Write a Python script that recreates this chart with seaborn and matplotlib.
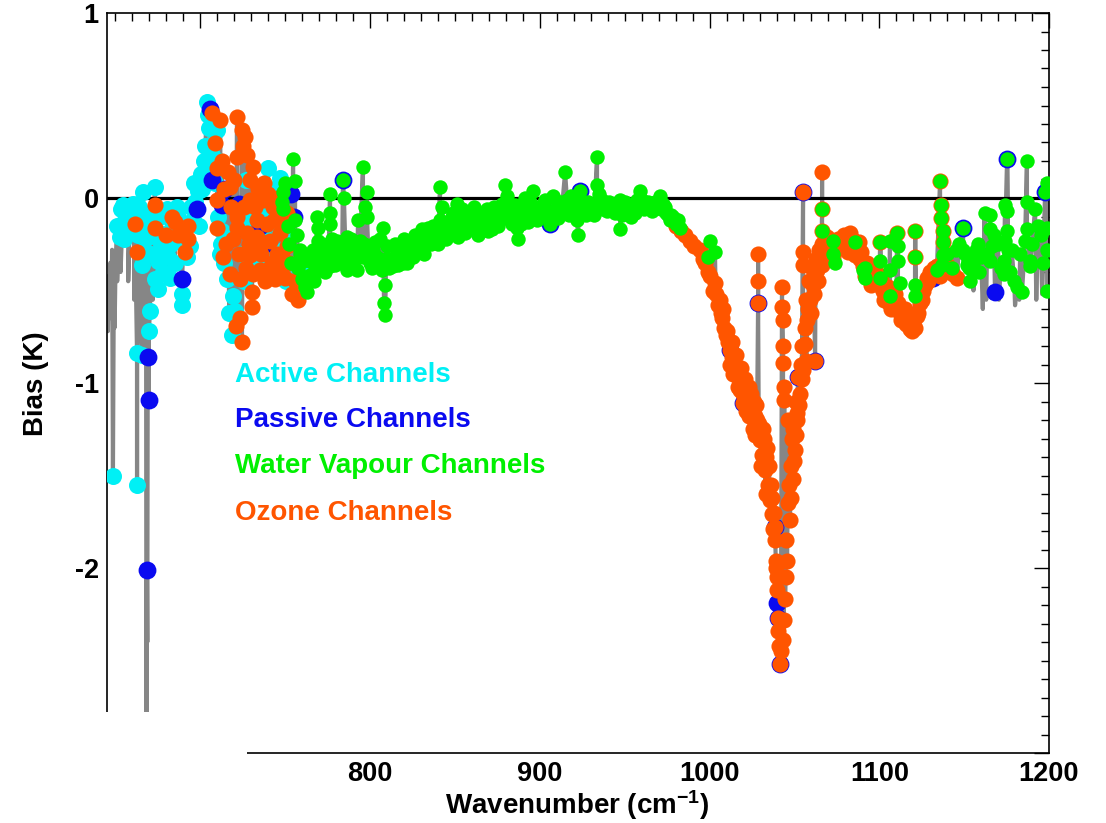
import numpy as np
import pandas as pd
import matplotlib
matplotlib.use("Agg")
import matplotlib.pyplot as plt
from matplotlib.patches import Rectangle
from matplotlib.ticker import MultipleLocator
import seaborn as sns

# ---------------------------------------------------------------------------
# Mean bias (K) per IASI channel, grouped by channel type
# ---------------------------------------------------------------------------
active_wn = [648.5, 652.7, 654.4, 655.6, 656.8, 658.6, 660.3, 662.7, 662.7, 663.5,
             665.6, 665.6, 666.2, 667.5, 669.2, 669.7, 670.3, 671.5, 673.3, 673.3,
             675.0, 675.0, 677.0, 679.2, 680.4, 680.4, 682.1, 684.0, 686.2, 688.0,
             689.2, 689.2, 693.9, 695.5, 697.0, 698.5, 700.5, 702.0, 703.9, 705.0,
             706.0, 707.0, 708.0, 709.8, 711.0, 711.6, 713.0, 715.7, 718.6, 719.2,
             720.4, 722.0, 724.0, 727.0, 730.0, 733.0, 736.0, 739.9, 742.0, 744.0,
             746.9, 749.0, 752.0, 756.0, 760.0,
             651.0, 653.0, 655.0, 657.5, 659.5, 661.0, 664.0, 667.0, 668.0, 671.0,
             672.5, 674.0, 676.0, 678.0, 681.0, 683.0, 685.0, 687.0, 690.5, 692.0,
             694.5, 696.0, 699.0, 701.0, 703.0, 704.5, 708.5, 710.5, 712.0, 714.0,
             716.5, 717.0, 725.5, 728.0, 732.0, 734.5, 738.5, 741.0, 743.0, 745.5,
             748.5, 750.5]
active_bias = [-1.50, -0.21, -0.04, -0.12, -0.16, -0.08, -0.03, -0.84, -1.55, -0.20,
               -0.85, -0.36, 0.03, -0.10, -0.21, -0.72, -0.61, -0.15, 0.06, -0.44,
               -0.34, -0.49, -0.25, -0.28, -0.19, -0.06, -0.43, -0.15, -0.05, -0.23,
               -0.52, -0.58, -0.26, -0.12, -0.02, 0.04, 0.13, 0.20, 0.52, 0.38,
               0.15, 0.23, 0.30, 0.37, 0.20, -0.30, -0.18, -0.44, -0.74, -0.53,
               -0.61, -0.05, -0.30, 0.10, -0.20, -0.35, -0.05, 0.16, -0.10, -0.30,
               0.11, -0.38, -0.20, -0.48, -0.40,
               -0.15, -0.06, -0.22, -0.05, -0.18, -0.10, -0.05, -0.28, -0.15, -0.30,
               -0.08, -0.20, -0.10, -0.40, -0.32, -0.25, -0.35, -0.10, -0.15, -0.32,
               -0.05, 0.08, -0.15, 0.05, 0.28, 0.45, 0.08, -0.10, -0.25, -0.35,
               -0.22, -0.62, -0.45, -0.12, -0.28, 0.02, -0.22, 0.05, -0.40, -0.15,
               -0.28, -0.45]

passive_wn = [668.5, 669.0, 669.5, 689.2, 698.0, 705.7, 706.9, 712.8, 714.5, 722.5,
              735.0, 738.0, 753.4, 755.0, 784.0, 906.0, 917.8, 923.7, 1012.1, 1019.7,
              1028.6, 1038.6, 1039.8, 1040.4, 1041.6, 1052.1, 1055.1, 1062.2, 1131.7, 1149.4,
              1168.2, 1175.3, 1197.7]
passive_bias = [-2.01, -0.86, -1.09, -0.44, -0.06, 0.48, 0.10, -0.04, 0.05, -0.03,
                -0.15, -0.25, 0.02, -0.10, 0.10, -0.14, -0.05, 0.04, -0.82, -1.11,
                -0.57, -1.78, -2.19, -2.27, -2.52, -0.97, 0.03, -0.88, -0.43, -0.16,
                -0.51, 0.21, 0.03]

ozone_wn = [661.5, 662.7, 673.3, 673.3, 685.0, 687.0, 691.0, 692.7, 692.7, 680.0, 683.5,
            706.9, 709.8, 709.8, 709.8, 711.6, 713.3, 716.3, 717.5, 717.5, 719.0,
            721.0, 721.6, 721.6, 721.6, 721.6, 723.4, 723.4, 724.5, 724.5, 725.1,
            726.3, 727.5, 727.5, 729.3, 729.3, 729.3, 730.4, 730.4, 731.0, 731.0,
            733.4, 733.4, 735.2, 735.2, 736.9, 737.5, 739.3, 739.3, 741.0, 742.8,
            744.0, 745.2, 746.9, 748.0, 748.7, 749.9, 751.0, 751.0, 754.0, 757.5,
            708.5, 712.5, 714.0, 715.0, 718.0, 720.0, 722.5, 725.8, 726.8, 728.5,
            732.0, 734.0, 736.0, 738.0, 740.0, 742.0, 743.5, 745.8, 747.5, 750.0,
            752.5, 755.5,
            980.0, 983.0, 985.5, 988.5, 991.0, 994.4, 996.0, 997.3, 999.0, 1000.3,
            1002.0, 1003.5, 1005.0, 1006.0, 1007.4, 1008.5, 1009.7, 1011.0, 1012.1, 1013.5,
            1015.0, 1016.0, 1016.8, 1018.0, 1019.7, 1020.9, 1022.0, 1022.7, 1024.0, 1025.0,
            1026.5, 1028.0, 1028.6, 1028.6, 1028.6, 1029.8, 1031.0, 1032.0, 1032.7, 1033.5,
            1034.5, 1035.6, 1036.8, 1037.4, 1038.6, 1038.6, 1039.0, 1039.8, 1040.4, 1040.4,
            1041.0, 1041.6, 1042.7, 1042.7, 1043.0, 1043.3, 1043.3, 1043.3, 1044.0, 1044.0,
            1044.5, 1045.7, 1046.5, 1047.4, 1048.5, 1049.2, 1050.4, 1051.6, 1051.6, 1052.1,
            1053.3, 1055.1, 1055.1, 1055.1, 1055.1, 1056.3, 1057.4, 1058.0, 1059.2, 1061.0,
            1062.2, 1063.3, 1064.0, 1065.1, 1066.3, 1066.3, 1066.3, 1066.3, 1068.0, 1071.0,
            1004.0, 1006.5, 1008.0, 1010.5, 1012.0, 1013.0, 1014.0, 1015.5, 1017.0, 1018.5,
            1019.0, 1020.0, 1021.5, 1023.0, 1023.5, 1024.5, 1025.5, 1026.0, 1027.0, 1027.5,
            1029.0, 1030.5, 1031.5, 1033.0, 1034.0, 1035.0, 1036.0, 1037.0, 1038.0, 1039.3,
            1040.0, 1042.0, 1043.8, 1044.8, 1045.2, 1046.0, 1046.8, 1047.8, 1048.0, 1049.0,
            1049.8, 1050.8, 1051.0, 1052.5, 1053.8, 1054.2, 1054.5, 1056.0, 1056.8, 1057.0,
            1058.5, 1059.8, 1060.5, 1061.5, 1062.5, 1064.5, 1066.0, 1067.0, 1069.0, 1070.0,
            1072.8, 1072.8, 1074.5, 1076.9, 1079.0, 1080.5, 1082.8, 1084.5, 1085.7, 1086.9,
            1088.5, 1090.4, 1092.5, 1094.0, 1096.3, 1098.0, 1100.0, 1100.5, 1102.2, 1104.0,
            1106.0, 1108.1, 1110.0, 1110.5, 1112.0, 1114.0, 1116.0, 1118.1, 1120.0, 1121.1,
            1121.1, 1122.2, 1124.0, 1126.0, 1128.2, 1130.0, 1134.0, 1135.8, 1136.4, 1136.4,
            1137.5, 1137.5, 1138.0, 1141.7, 1145.8,
            1073.5, 1075.5, 1078.0, 1081.5, 1083.8, 1085.5, 1087.8, 1089.5, 1091.5, 1093.0,
            1095.0, 1097.0, 1099.0, 1101.0, 1103.0, 1105.0, 1107.0, 1109.0, 1111.0, 1113.0,
            1115.0, 1117.0, 1119.0, 1121.0, 1123.0, 1125.0, 1127.0, 1129.0, 1132.0, 1136.0,
            1140.0, 1143.5]
ozone_bias = [-0.14, -0.29, -0.04, -0.16, -0.13, -0.20, -0.29, -0.15, -0.22, -0.20, -0.10,
              0.46, 0.16, -0.01, -0.16, 0.42, -0.32, 0.14, 0.06, -0.41, -0.22,
              -0.69, 0.44, 0.22, -0.10, -0.16, -0.44, -0.65, 0.37, -0.78, 0.28,
              0.33, 0.23, -0.19, 0.10, -0.01, -0.31, -0.51, -0.59, 0.17, -0.41,
              -0.12, -0.21, -0.26, -0.39, -0.01, 0.08, -0.14, -0.39, -0.23, -0.05,
              -0.44, -0.30, -0.19, -0.30, -0.34, -0.43, -0.08, -0.26, -0.52, -0.55,
              0.30, 0.20, 0.05, -0.25, -0.05, 0.10, -0.30, -0.05, -0.38, -0.25,
              -0.05, 0.05, -0.30, -0.45, 0.02, -0.35, -0.12, 0.00, -0.40, -0.15,
              -0.35, -0.45,
              -0.15, -0.18, -0.20, -0.23, -0.26, -0.28, -0.33, -0.35, -0.40, -0.42,
              -0.50, -0.46, -0.58, -0.55, -0.65, -0.70, -0.74, -0.78, -0.82, -0.86,
              -0.90, -0.95, -0.97, -1.04, -1.11, -0.98, -1.05, -1.09, -1.12, -1.15,
              -1.18, -1.20, -0.30, -0.45, -0.57, -1.31, -1.39, -1.30, -1.47, -1.40,
              -1.55, -1.63, -1.71, -1.79, -1.85, -1.78, -1.96, -2.12, -2.27, -2.34,
              -2.42, -2.52, -0.48, -0.59, -0.66, -0.80, -0.89, -2.39, -1.02, -1.09,
              -2.17, -1.96, -1.20, -1.74, -1.30, -1.52, -1.36, -1.20, -1.16, -0.97,
              -1.06, 0.03, -0.29, -0.36, -0.93, -0.79, -0.66, -0.60, -0.55, -0.47,
              -0.88, -0.39, -0.45, -0.32, 0.14, -0.06, -0.18, -0.36, -0.27, -0.23,
              -0.52, -0.62, -0.60, -0.72, -0.90, -0.78, -0.95, -0.85, -1.02, -0.92,
              -1.00, -1.06, -1.15, -1.02, -1.18, -1.06, -1.25, -1.10, -1.28, -1.12,
              -1.22, -1.45, -1.25, -1.60, -1.35, -1.45, -1.55, -1.62, -1.70, -2.00,
              -2.05, -2.45, -2.28, -2.05, -1.85, -1.65, -1.55, -1.45, -1.62, -1.25,
              -1.42, -1.10, -1.28, -1.12, -0.90, -0.98, -0.80, -0.70, -0.55, -0.88,
              -0.45, -0.62, -0.38, -0.52, -0.33, -0.28, -0.25, -0.30, -0.21, -0.26,
              -0.32, -0.23, -0.26, -0.26, -0.20, -0.24, -0.19, -0.25, -0.24, -0.28,
              -0.33, -0.37, -0.35, -0.42, -0.44, -0.40, -0.47, -0.24, -0.50, -0.52,
              -0.57, -0.55, -0.60, -0.19, -0.62, -0.64, -0.68, -0.71, -0.68, -0.18,
              -0.32, -0.64, -0.57, -0.50, -0.43, -0.40, -0.37, 0.09, -0.04, -0.11,
              -0.18, -0.24, -0.40, -0.39, -0.43,
              -0.28, -0.22, -0.27, -0.29, -0.22, -0.31, -0.24, -0.29, -0.42, -0.38,
              -0.47, -0.38, -0.45, -0.42, -0.55, -0.48, -0.60, -0.52, -0.57, -0.66,
              -0.60, -0.65, -0.72, -0.70, -0.62, -0.55, -0.47, -0.45, -0.38, -0.42,
              -0.36, -0.41]

wv_wn = [748.0, 748.7, 748.7, 749.9, 751.5, 754.6, 755.8, 755.8, 757.0, 758.7,
         758.7, 759.9, 760.5, 761.7, 762.8, 764.6, 765.8, 767.0, 768.7, 769.3,
         769.3, 770.5, 770.5, 772.5, 774.6, 776.4, 776.4, 776.4, 776.4, 778.5,
         780.5, 782.3, 784.0, 784.6, 786.4, 786.4, 788.0, 790.0, 792.3, 792.9,
         794.1, 795.8, 795.8, 797.0, 798.2, 798.2, 800.0, 802.0, 804.1, 806.0,
         807.0, 807.6, 808.2, 808.8, 808.8, 810.0, 812.0, 813.5, 815.9, 817.5,
         819.4, 821.0, 823.5, 825.5, 827.7, 829.4, 830.6, 831.2, 833.0, 835.0,
         837.0, 839.0, 841.2, 841.2, 842.4, 844.0, 846.0, 848.0, 850.0, 851.2,
         853.0, 853.0, 855.0, 857.1, 858.5, 860.7, 862.5, 864.5, 866.5, 868.9,
         870.0, 871.8, 873.0, 874.8, 876.5, 878.0, 879.5, 880.7, 882.5, 884.5,
         886.6, 887.2, 888.5, 890.1, 892.0, 894.0, 896.0, 897.2, 899.5, 901.9,
         904.0, 906.0, 907.8, 910.0, 912.0, 914.9, 916.0, 919.5, 921.9, 922.5,
         923.7, 926.0, 928.5, 931.0, 933.7, 933.7, 935.0, 936.7, 938.0, 939.6,
         942.0, 944.5, 947.3, 947.3, 949.0, 951.4, 953.5, 955.5, 957.0, 959.0,
         960.2, 962.5, 964.9, 967.0, 969.0, 970.8, 972.5, 973.8, 975.5, 976.7,
         978.5, 980.5, 982.6, 999.1, 1000.3, 1003.2,
         752.5, 753.5, 757.5, 761.0, 763.5, 766.5, 768.0, 771.5, 773.5, 775.5,
         777.5, 779.5, 781.5, 783.5, 785.5, 787.0, 789.0, 791.0, 793.5, 796.5,
         799.0, 801.0, 803.0, 805.0, 809.5, 811.0, 814.5, 816.5, 818.5, 820.0,
         822.0, 824.5, 826.5, 828.5,
         832.0, 834.0, 836.0, 838.0, 840.0, 843.0, 845.0, 847.0, 849.0, 852.0,
         854.0, 856.0, 859.0, 861.5, 863.5, 865.5, 867.5, 869.5, 872.5, 875.5,
         877.0, 881.5, 883.5, 885.5, 889.0, 891.0, 893.0, 895.0, 898.5, 900.5,
         903.0, 905.0, 909.0, 911.0, 913.0, 917.0, 918.5, 920.5, 925.0, 927.0,
         929.5, 932.0, 937.3, 940.5, 943.0, 945.5, 948.2, 950.3, 952.5, 954.5,
         956.0, 958.0, 961.3, 963.5, 966.0, 968.0, 971.5, 974.5, 977.5, 979.5,
         981.5,
         1066.3, 1066.3, 1072.8, 1072.8, 1073.9, 1085.7, 1090.4, 1091.6, 1091.6, 1100.5,
         1100.5, 1100.5, 1106.3, 1106.3, 1106.3, 1110.5, 1111.0, 1111.0, 1112.2, 1121.1,
         1121.1, 1121.1, 1121.1, 1134.0, 1135.8, 1136.4, 1136.4, 1137.5, 1137.5, 1137.5,
         1137.0, 1145.0, 1149.4, 1149.4, 1151.7, 1152.3, 1152.9, 1153.5, 1158.0, 1160.0,
         1162.0, 1165.3, 1165.3, 1166.5, 1165.3, 1173.5, 1173.5, 1174.1, 1175.3, 1175.3,
         1174.1, 1175.9, 1178.0, 1175.3, 1181.2, 1184.1, 1185.9, 1187.0, 1187.0, 1187.0,
         1188.8, 1188.8, 1191.8, 1193.6, 1197.7, 1198.9, 1198.9, 1198.9, 1198.9,
         1140.0, 1143.0, 1147.0, 1150.5, 1155.0, 1157.0, 1159.0, 1163.5, 1167.5, 1170.0,
         1171.5, 1177.0, 1179.5, 1183.0, 1190.0, 1195.0, 1196.5]
wv_bias = [-0.02, 0.03, -0.06, 0.08, -0.15, 0.21, 0.09, -0.12, -0.20, -0.28,
           -0.30, -0.44, -0.34, -0.48, -0.51, -0.34, -0.41, -0.45, -0.10, -0.16,
           -0.23, -0.30, -0.39, -0.35, -0.26, 0.02, -0.08, -0.14, -0.37, -0.30,
           -0.23, -0.32, 0.10, 0.00, -0.21, -0.39, -0.30, -0.26, -0.39, -0.12,
           -0.23, 0.17, -0.32, -0.05, 0.03, -0.10, -0.35, -0.28, -0.32, -0.22,
           -0.39, -0.16, -0.57, -0.47, -0.63, -0.26, -0.33, -0.37, -0.30, -0.25,
           -0.35, -0.30, -0.28, -0.32, -0.23, -0.23, -0.17, -0.26, -0.20, -0.22,
           -0.15, -0.18, 0.06, -0.12, -0.05, -0.20, -0.14, -0.10, -0.17, -0.03,
           -0.10, -0.17, -0.13, -0.14, -0.08, -0.12, -0.16, -0.09, -0.13, -0.06,
           -0.11, -0.17, -0.05, -0.08, -0.12, -0.03, 0.07, 0.01, -0.05, -0.10,
           -0.16, -0.22, -0.09, -0.06, -0.10, -0.02, 0.04, -0.08, -0.05, -0.03,
           -0.07, -0.14, 0.01, -0.05, -0.02, 0.14, -0.01, -0.04, -0.12, -0.20,
           0.04, -0.06, -0.02, -0.05, 0.22, 0.07, 0.02, -0.01, -0.04, -0.07,
           -0.03, -0.08, -0.01, -0.17, -0.06, -0.05, -0.10, -0.03, -0.01, 0.04,
           -0.01, -0.04, -0.06, -0.03, -0.05, 0.01, -0.03, -0.05, -0.09, -0.12,
           -0.10, -0.14, -0.16, -0.32, -0.23, -0.29,
           -0.25, -0.35, -0.38, -0.30, -0.42, -0.28, -0.36, -0.25, -0.40, -0.31,
           -0.22, -0.36, -0.27, -0.35, -0.28, -0.35, -0.22, -0.33, -0.28, -0.25,
           -0.30, -0.38, -0.24, -0.35, -0.33, -0.38, -0.25, -0.36, -0.28, -0.22,
           -0.35, -0.25, -0.20, -0.28,
           -0.30, -0.16, -0.25, -0.20, -0.25, -0.14, -0.22, -0.18, -0.08, -0.21,
           -0.06, -0.19, -0.15, -0.05, -0.20, -0.15, -0.09, -0.18, -0.10, -0.15,
           -0.07, -0.10, -0.14, -0.04, -0.14, 0.00, -0.13, -0.06, -0.12, -0.08,
           -0.01, -0.10, -0.09, -0.11, -0.06, -0.09, 0.01, -0.08, -0.02, -0.09,
           -0.04, -0.09, -0.06, -0.02, -0.07, -0.04, -0.09, -0.02, -0.08, -0.05,
           -0.08, -0.03, -0.06, -0.02, -0.07, -0.02, -0.06, -0.08, -0.09, -0.13,
           -0.12,
           -0.06, -0.18, -0.23, -0.30, -0.35, -0.24, -0.39, -0.38, -0.43, -0.24,
           -0.34, -0.43, -0.23, -0.39, -0.53, -0.19, -0.26, -0.34, -0.46, -0.18,
           -0.32, -0.47, -0.53, -0.39, 0.09, -0.04, -0.11, -0.18, -0.24, -0.31,
           -0.36, -0.28, -0.16, -0.28, -0.36, -0.34, -0.38, -0.45, -0.25, -0.32,
           -0.08, -0.09, -0.17, -0.26, -0.34, -0.34, -0.41, -0.04, -0.07, -0.18,
           -0.23, -0.28, -0.28, 0.21, -0.48, -0.51, -0.23, 0.20, -0.02, -0.17,
           -0.34, -0.37, -0.06, -0.15, 0.03, 0.08, -0.16, -0.28, -0.50,
           -0.30, -0.38, -0.25, -0.30, -0.35, -0.28, -0.40, -0.30, -0.20, -0.25,
           -0.38, -0.40, -0.45, -0.30, -0.25, -0.20, -0.35]

# Channels shown only in the full-spectrum trace
other_wn = [645.0, 645.5, 646.0, 646.5, 647.0, 647.5, 648.0, 649.0, 649.5, 650.0,
            650.5, 651.0, 651.5, 653.0, 657.5, 661.0, 664.5, 668.25, 668.75, 672.0,
            1142.0, 1155.5, 1161.0, 1163.0, 1170.5, 1180.0, 1182.5, 1192.5, 1196.0]
other_bias = [-0.55, -0.72, -0.42, -0.65, -0.35, -0.60, -0.28, -0.50, -0.70, -0.38,
              -0.25, -0.45, -0.30, -0.40, -0.45, -0.55, -0.65, -3.30, -2.40, -0.55,
              -0.44, -0.50, -0.60, -0.55, -0.55, -0.58, -0.55, -0.55, -0.52]

labels = ["Active Channels", "Passive Channels", "Water Vapour Channels", "Ozone Channels"]
colors = {"active": "#00F0F5", "passive": "#0A0AF0", "wv": "#00F000", "ozone": "#FF5500"}

# ---------------------------------------------------------------------------
sns.set_theme(style="white")
plt.rcParams["font.family"] = ["Liberation Sans", "DejaVu Sans"]
plt.rcParams["font.weight"] = "bold"
plt.rcParams["axes.unicode_minus"] = False
plt.rcParams["mathtext.fontset"] = "custom"
plt.rcParams["mathtext.rm"] = "Liberation Sans:bold"
plt.rcParams["mathtext.bf"] = "Liberation Sans:bold"
plt.rcParams["mathtext.default"] = "bf"

fig = plt.figure(figsize=(11.06, 8.23), dpi=100)
ax = fig.add_axes([107 / 1106, 70 / 823, 942 / 1106, 740 / 823])
ax.set_facecolor("white")

# full spectrum trace through every channel, in wavenumber order
frames = [
    pd.DataFrame({"wn": active_wn, "bias": active_bias}),
    pd.DataFrame({"wn": passive_wn, "bias": passive_bias}),
    pd.DataFrame({"wn": wv_wn, "bias": wv_bias}),
    pd.DataFrame({"wn": ozone_wn, "bias": ozone_bias}),
    pd.DataFrame({"wn": other_wn, "bias": other_bias}),
]
spectrum = pd.concat(frames, ignore_index=True).sort_values("wn", kind="mergesort")
sns.lineplot(data=spectrum, x="wn", y="bias", estimator=None, sort=False,
             color="#868686", lw=3.0, ax=ax, zorder=1)

ax.axhline(0, color="black", lw=2.3, zorder=2)

sns.scatterplot(x=active_wn, y=active_bias, color=colors["active"], s=150,
                linewidth=0, ax=ax, zorder=3)
sns.scatterplot(x=passive_wn, y=passive_bias, color=colors["passive"], s=165,
                linewidth=0, ax=ax, zorder=4)
sns.scatterplot(x=ozone_wn, y=ozone_bias, color=colors["ozone"], s=135,
                linewidth=0, ax=ax, zorder=5)
sns.scatterplot(x=wv_wn, y=wv_bias, color=colors["wv"], s=108,
                linewidth=0, ax=ax, zorder=6)

ax.set_xlim(645, 1200)
ax.set_ylim(-3, 1)
ax.set_xlabel("")
ax.set_ylabel("")
ax.set_xticks([700, 800, 900, 1000, 1100, 1200])
ax.set_yticks([-3, -2, -1, 0, 1])
ax.xaxis.set_minor_locator(MultipleLocator(10))
ax.yaxis.set_minor_locator(MultipleLocator(0.1))
ax.tick_params(which="both", direction="in", top=True, right=True, color="black",
               width=1.0, labelsize=19.5, labelcolor="black")
ax.tick_params(which="major", length=11, pad=6)
ax.tick_params(which="minor", length=6)
for lab in ax.get_xticklabels() + ax.get_yticklabels():
    lab.set_fontweight("bold")
for sp in ax.spines.values():
    sp.set_color("black")
    sp.set_linewidth(1.2)

# channel-type key drawn as coloured text
key_y = [0.511, 0.450, 0.388, 0.324]
for text, col, yy in zip(labels, [colors["active"], colors["passive"], colors["wv"], colors["ozone"]], key_y):
    ax.text(0.136, yy, text, transform=ax.transAxes, color=col, fontsize=20,
            fontweight="bold", ha="left", va="center", zorder=8)

fig.text(36 / 1106, 1 - 384 / 823, "Bias (K)", rotation=90, ha="center", va="center",
         fontsize=20, fontweight="bold", color="black")
fig.text(577 / 1106, 1 - 805 / 823, r"Wavenumber (cm$^{-1}$)", ha="center", va="center",
         fontsize=20, fontweight="bold", color="black")

# blank out the lower-left corner of the frame
fig.add_artist(Rectangle((0, 0), 246.5 / 1106, (823 - 711.5) / 823,
                         transform=fig.transFigure, facecolor="white",
                         edgecolor="none", zorder=10))

fig.savefig("out.png", dpi=100, facecolor="white")
